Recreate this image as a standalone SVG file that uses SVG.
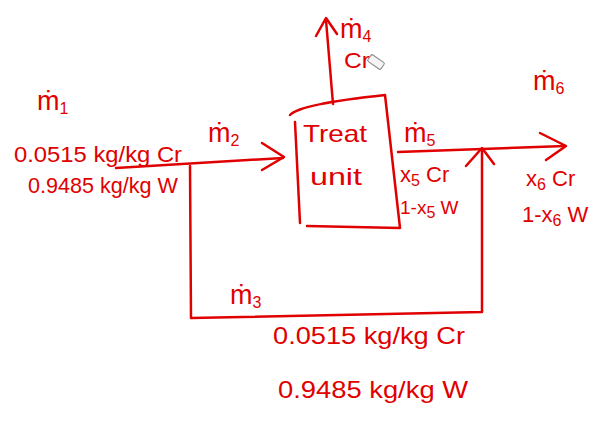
<svg xmlns="http://www.w3.org/2000/svg" width="594" height="425" viewBox="0 0 594 425">
<defs>
<style>
.t{font-family:"Liberation Sans","DejaVu Sans",sans-serif;fill:#e00000;font-size:22px}
.m{font-size:27px}
.s{font-size:16px}
.ln{fill:none;stroke:#e00000;stroke-width:2.5;stroke-linecap:round;stroke-linejoin:round}
</style>
</defs>
<rect width="594" height="425" fill="#ffffff"/>
<g id="connectors">
<path class="ln" d="M116,168 L283,158"/>
<path class="ln" d="M262,143 L284,157 L262,170"/>
<path class="ln" d="M190,166 L191,318 L482,312 L482,150"/>
<path class="ln" d="M466,166 L482,148 L494,164"/>
<path class="ln" d="M333,104 L326,20"/>
<path class="ln" d="M316,36 L326,18 L337,34"/>
<path class="ln" d="M398,152 L565,146"/>
<path class="ln" d="M540,133 L566,146 L546,160"/>
</g>
<g id="treat-unit">
<path class="ln" d="M290,115 Q300,104 385,95 L400,228 L307,226 M295,122 L300,223"/>
<text class="t" x="303" y="142" textLength="64" lengthAdjust="spacingAndGlyphs" style="font-size:24px">Treat</text>
<text class="t" x="310" y="185" textLength="52" lengthAdjust="spacingAndGlyphs" style="font-size:24px">unit</text>
</g>
<g id="labels">
<text class="t m" x="37" y="110">ṁ<tspan class="s" dy="4">1</tspan></text>
<text class="t" x="14" y="162" textLength="168" lengthAdjust="spacingAndGlyphs">0.0515 kg/kg Cr</text>
<text class="t" x="28" y="193" textLength="150" lengthAdjust="spacingAndGlyphs">0.9485 kg/kg W</text>
<text class="t m" x="208" y="142">ṁ<tspan class="s" dy="4">2</tspan></text>
<text class="t m" x="340" y="38">ṁ<tspan class="s" dy="4">4</tspan></text>
<text class="t" x="344" y="68" textLength="26" lengthAdjust="spacingAndGlyphs">Cr</text>
<text class="t m" x="404" y="142">ṁ<tspan class="s" dy="4">5</tspan></text>
<text class="t" x="400" y="182">x<tspan class="s" dy="4">5</tspan><tspan dy="-4"> Cr</tspan></text>
<text class="t" x="400" y="214" style="font-size:19px">1-x<tspan class="s" dy="4">5</tspan><tspan dy="-4"> W</tspan></text>
<text class="t m" x="533" y="90">ṁ<tspan class="s" dy="4">6</tspan></text>
<text class="t" x="526" y="186">x<tspan class="s" dy="4">6</tspan><tspan dy="-4"> Cr</tspan></text>
<text class="t" x="522" y="222">1-x<tspan class="s" dy="4">6</tspan><tspan dy="-4"> W</tspan></text>
<text class="t m" x="230" y="304">ṁ<tspan class="s" dy="4">3</tspan></text>
<text class="t" x="273" y="344" textLength="192" lengthAdjust="spacingAndGlyphs" style="font-size:24px">0.0515 kg/kg Cr</text>
<text class="t" x="278" y="398" textLength="190" lengthAdjust="spacingAndGlyphs" style="font-size:24px">0.9485 kg/kg W</text>
</g>
<g id="cursor">
<rect x="368" y="58" width="16" height="8" rx="1.5" transform="rotate(35 376 62)" fill="#f4f4f4" stroke="#888" stroke-width="1"/>
</g>
</svg>
